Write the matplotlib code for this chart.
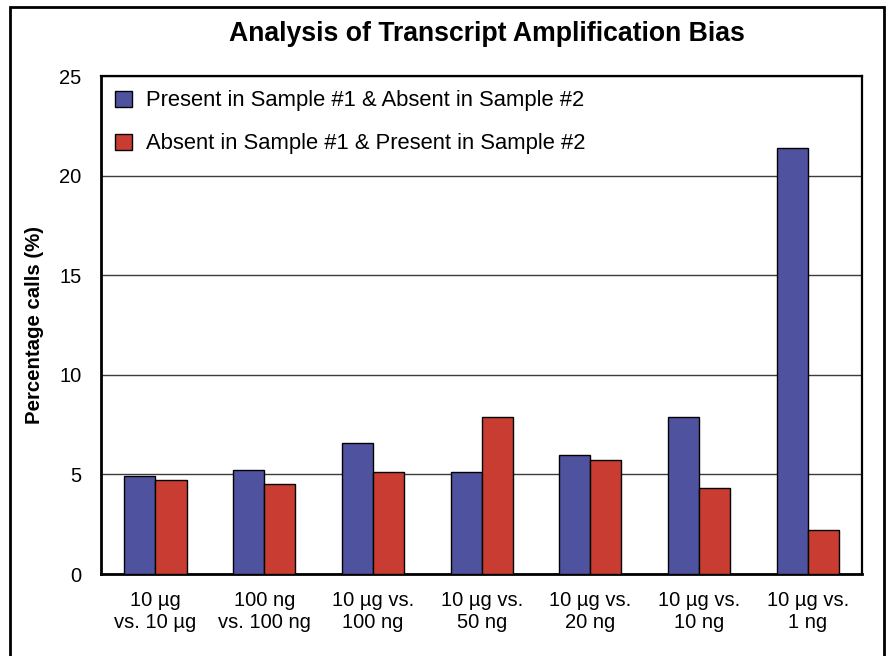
import numpy as np
import matplotlib
matplotlib.use("Agg")
import matplotlib.pyplot as plt
from matplotlib.patches import Rectangle

plt.rcParams['font.family'] = ['Liberation Sans', 'DejaVu Sans']

# data
categories = ["10 µg\nvs. 10 µg", "100 ng\nvs. 100 ng", "10 µg vs.\n100 ng",
              "10 µg vs.\n50 ng", "10 µg vs.\n20 ng", "10 µg vs.\n10 ng",
              "10 µg vs.\n1 ng"]
present_absent = [4.9, 5.2, 6.6, 5.1, 6.0, 7.9, 21.4]
absent_present = [4.7, 4.5, 5.1, 7.9, 5.7, 4.3, 2.2]
series_names = ["Present in Sample #1 & Absent in Sample #2",
                "Absent in Sample #1 & Present in Sample #2"]
yticks = [0, 5, 10, 15, 20, 25]

blue = "#4F539F"
red = "#C93C31"

fig = plt.figure(figsize=(8.87, 6.56), dpi=100)
ax = fig.add_axes([0.114, 0.125, 0.858, 0.759])

x = np.arange(len(categories))
w = 0.286
ax.bar(x - w / 2, present_absent, w, color=blue, edgecolor="black", linewidth=1,
       label=series_names[0], zorder=3)
ax.bar(x + w / 2, absent_present, w, color=red, edgecolor="black", linewidth=1,
       label=series_names[1], zorder=3)

ax.set_xlim(-0.5, len(categories) - 0.5)
ax.set_ylim(0, 25)
ax.set_yticks(yticks)
ax.set_xticks(x)
ax.set_xticklabels(categories, fontsize=14.5, linespacing=1.2)
ax.tick_params(axis="y", length=0, pad=14, labelsize=14.5)
ax.tick_params(axis="x", length=0, pad=12)
ax.yaxis.grid(True, color="#3c3c3c", linewidth=1, zorder=0)
ax.set_axisbelow(True)

for side in ["left", "bottom"]:
    ax.spines[side].set_linewidth(2)
for side in ["top", "right"]:
    ax.spines[side].set_linewidth(1.6)

ax.set_ylabel("Percentage calls (%)", fontsize=14.7, fontweight="bold", labelpad=11)

leg = ax.legend(loc="upper left", frameon=False, fontsize=15.8,
                handlelength=0.75, handleheight=0.75, handletextpad=0.65,
                labelspacing=1.0, borderaxespad=0.2, borderpad=0.45)

fig.text(0.5485, 0.948, "Analysis of Transcript Amplification Bias",
         ha="center", va="center", fontsize=19.2, fontweight="bold")

# outer chart frame
fig.patches.append(Rectangle((10 / 887, -0.02), 874 / 887, 1 - 7 / 656 + 0.02,
                             transform=fig.transFigure, fill=False,
                             edgecolor="black", linewidth=2))

fig.savefig("out.png", dpi=100)
